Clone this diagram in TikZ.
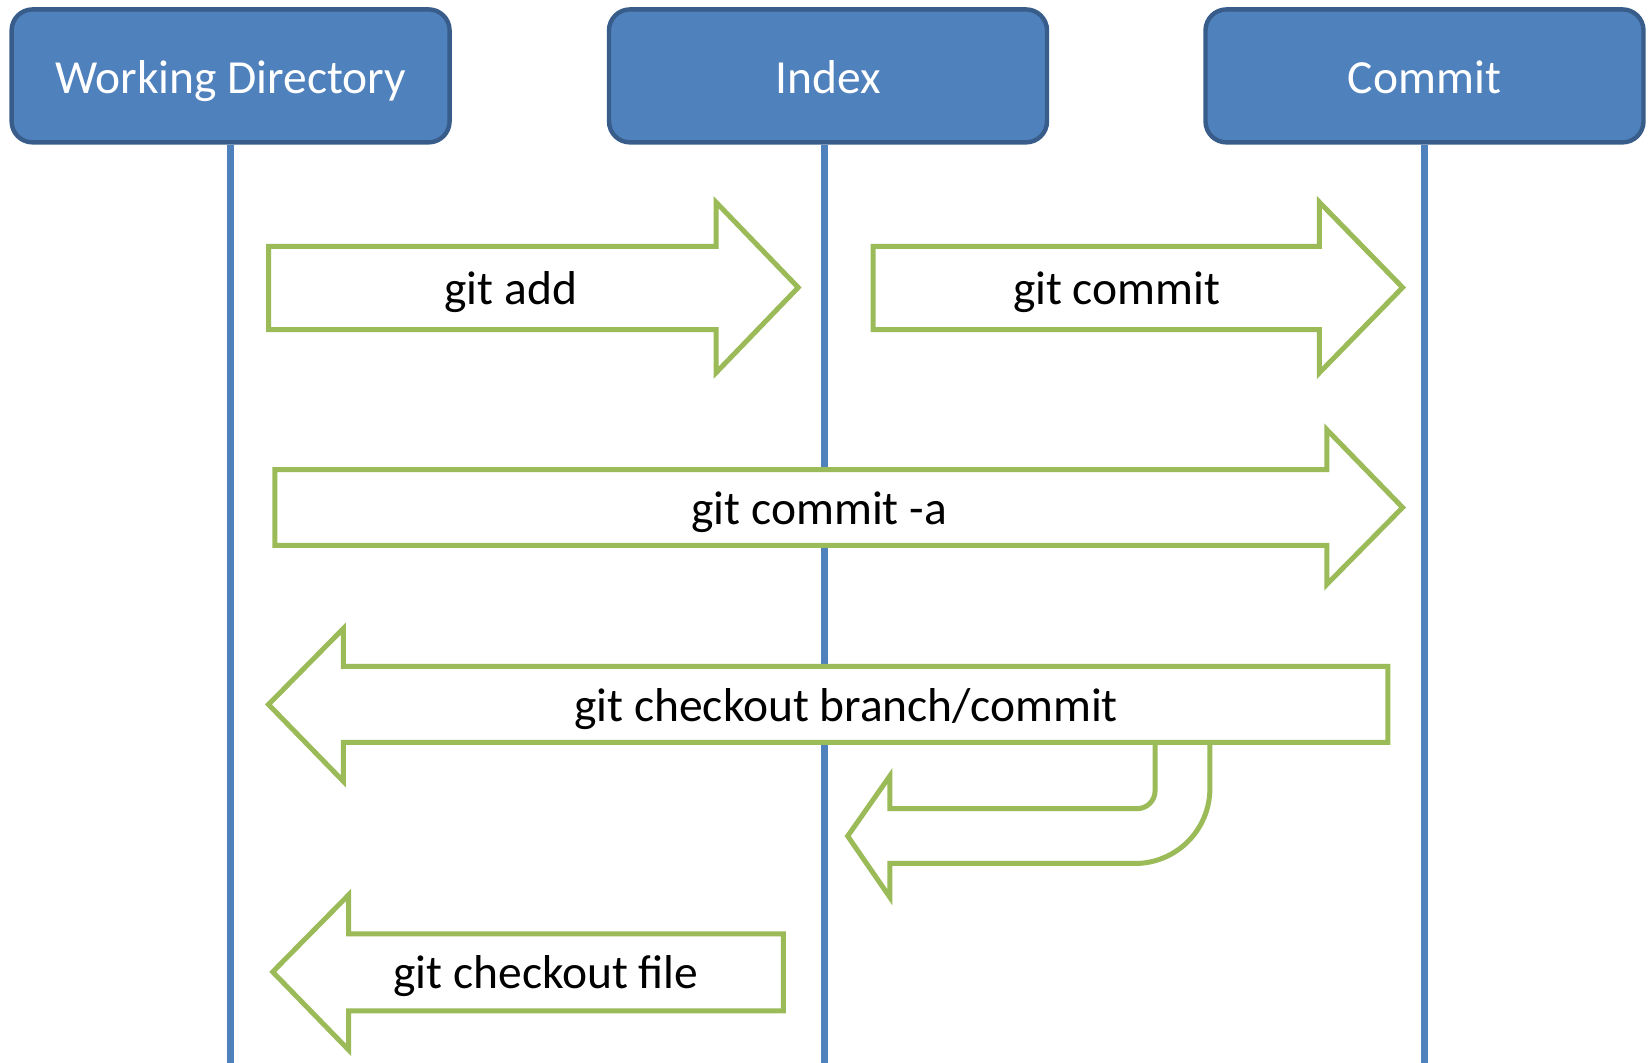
\documentclass[tikz,border=0pt]{standalone}
\usepackage{fontspec}
\setmainfont{Carlito}
\usepackage{tikz}
\definecolor{areablue}{RGB}{79,129,189}
\definecolor{areaedge}{RGB}{56,93,138}
\definecolor{cmdgreen}{RGB}{155,187,89}
\tikzstyle{every node}=[font=\fontsize{23.75}{28}\selectfont]
\tikzstyle{area}=[rectangle,
                  rounded corners=10.5pt,
                  line width=2.2pt,
                  draw=areaedge,
                  fill=areablue,
                  text=white,
                  text height=17.4pt,
                  text depth=0pt,
                  minimum width=219pt,
                  minimum height=66.5pt]
\tikzstyle{lifeline}=[line width=3.5pt,
                      draw=areablue]
\tikzstyle{blockarrow}=[line width=2.5pt,
                        draw=cmdgreen,
                        fill=white,
                        line join=miter]
\tikzstyle{cmd}=[text=black,
                 text height=17pt,
                 text depth=0pt]

\begin{document}
\begin{tikzpicture}[x=0.5pt,y=-0.5pt]
\useasboundingbox (0,0) rectangle (1651,1063);
\coordinate (bottom) at (0,1063);
\node (WD)  [area] at (230.6,75.9)  {Working Directory};
\node (IDX) [area] at (828,75.9)    {Index};
\node (COM) [area] at (1424.5,75.9) {Commit};
 \draw[lifeline] (WD.south)  -- (WD.south |- bottom);
 \draw[lifeline] ([xshift=-2pt]IDX.south) -- ([xshift=-2pt]IDX.south |- bottom);
 \draw[lifeline] (COM.south) -- (COM.south |- bottom);
 % git add
 \draw[blockarrow] (268.5,246.4) -- (716,246.4) -- (716,202.2) -- (798.2,287.5)
   -- (716,372.8) -- (716,329.6) -- (268.5,329.6) -- cycle;
 \node (add) [cmd] at (510.7,287.5) {git add};
 % git commit
 \draw[blockarrow] (873,246.4) -- (1319.4,246.4) -- (1319.4,202.2) -- (1402.6,287.5)
   -- (1319.4,372.8) -- (1319.4,329.6) -- (873,329.6) -- cycle;
 \node (commit) [cmd] at (1116.7,287.5) {git commit};
 % git commit -a
 \draw[blockarrow] (274.8,469.6) -- (1326.8,469.6) -- (1326.8,429.6) -- (1402.6,507.5)
   -- (1326.8,584.4) -- (1326.8,545.5) -- (274.8,545.5) -- cycle;
 \node (commita) [cmd] at (819.2,507.5) {git commit -a};
 % branch back into the index
 \draw[blockarrow] (1155.1,742.4) -- (1155.1,790.7)
   .. controls (1155.1,800.6) and (1147,808.7) .. (1137.1,808.7)
   -- (889.8,808.7) -- (889.8,776) -- (847.7,836.1) -- (889.8,897.2)
   -- (889.8,863.5) -- (1134.9,863.5)
   .. controls (1176.3,863.5) and (1209.9,829.9) .. (1209.9,788.5)
   -- (1209.9,742.4);
 % git checkout branch/commit
 \draw[blockarrow] (1387.9,666.5) -- (343.3,666.5) -- (343.3,628.6) -- (268.5,704.5)
   -- (343.3,781.3) -- (343.3,742.4) -- (1387.9,742.4) -- cycle;
 \node (checkout) [cmd] at (846.1,704.5) {git checkout branch/commit};
 % git checkout file
 \draw[blockarrow] (783.4,934) -- (348.5,934) -- (348.5,895) -- (272.7,971.9)
   -- (348.5,1049.8) -- (348.5,1010.9) -- (783.4,1010.9) -- cycle;
 \node (file) [cmd] at (546,971.9) {git checkout file};
\end{tikzpicture}
\end{document}
